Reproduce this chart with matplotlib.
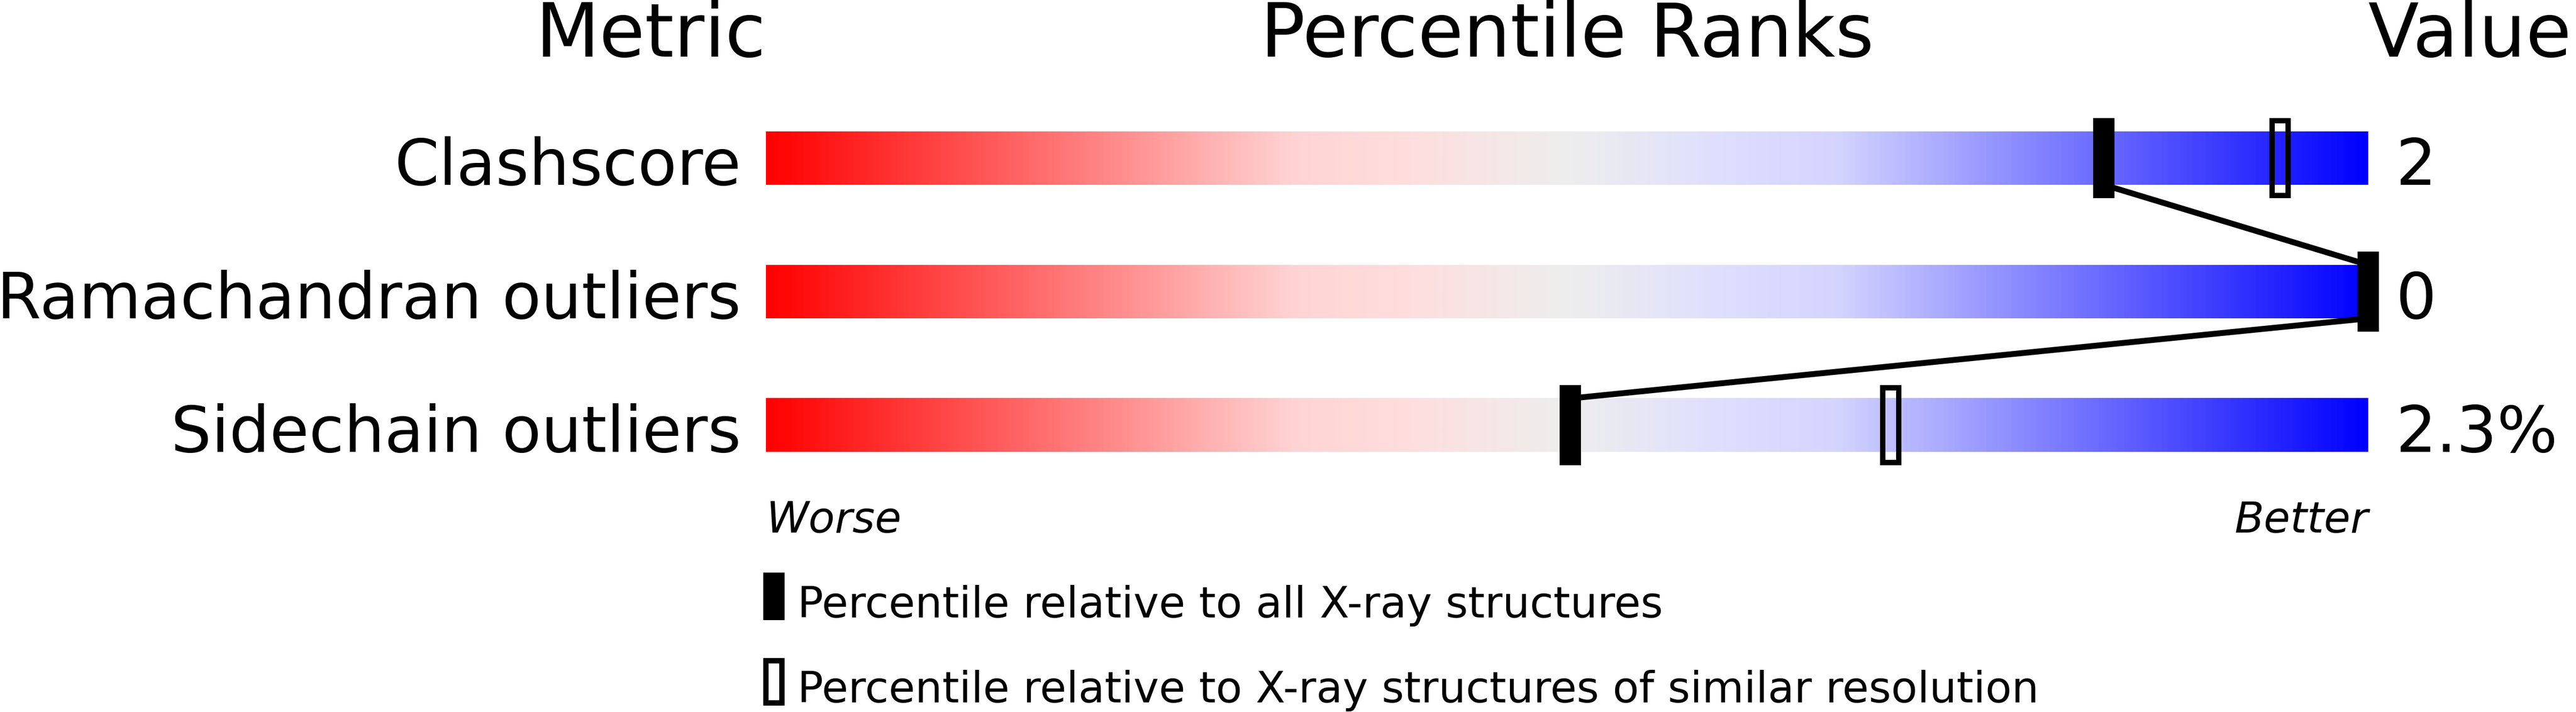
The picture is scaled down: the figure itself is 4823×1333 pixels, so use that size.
import numpy as np
import matplotlib
matplotlib.use("Agg")
import matplotlib.pyplot as plt
from matplotlib.colors import LinearSegmentedColormap
from matplotlib.patches import Rectangle

# data
metrics = ["Clashscore", "Ramachandran outliers", "Sidechain outliers"]
values = ["2", "0", "2.3%"]
pct_all = [83.5, 100.0, 50.2]          # filled marker
pct_similar = [94.5, np.nan, 70.2]     # hollow marker
legend_labels = ["Percentile relative to all X-ray structures",
                 "Percentile relative to X-ray structures of similar resolution"]

W, H, DPI = 4823, 1333, 100
fig = plt.figure(figsize=(W / DPI, H / DPI), dpi=DPI)
ax = fig.add_axes([0, 0, 1, 1])

# slider colours: red -> pink -> grey -> lavender -> blue
cmap = LinearSegmentedColormap.from_list("slider", [
    (0.0, (1.0, 0.0, 0.0)),
    (0.33, (1.0, 0.83, 0.83)),
    (0.4, (1.0, 0.87, 0.87)),
    (0.5, (0.933, 0.933, 0.933)),
    (0.6, (0.87, 0.87, 1.0)),
    (0.67, (0.83, 0.83, 1.0)),
    (1.0, (0.0, 0.0, 1.0)),
])
grad = np.linspace(0, 1, 1024).reshape(1, -1)

bar_h = 0.4
mark_h = 0.6
mark_w = 1.333
lw_px = 10 * 72 / DPI

rows = np.arange(len(metrics))
for i in rows:
    ax.imshow(grad, cmap=cmap, aspect="auto", interpolation="bilinear",
              extent=(0, 100, i + bar_h / 2, i - bar_h / 2), zorder=1)

# connecting line through filled markers
for i in rows[:-1]:
    ax.plot([pct_all[i], pct_all[i + 1]], [i + bar_h / 2, i + 1 - bar_h / 2],
            color="black", lw=11 * 72 / DPI, solid_capstyle="butt", zorder=2)

for i in rows:
    ax.add_patch(Rectangle((pct_all[i] - mark_w / 2, i - mark_h / 2), mark_w, mark_h,
                           facecolor="black", edgecolor="none", zorder=3))
    if not np.isnan(pct_similar[i]):
        ax.add_patch(Rectangle((pct_similar[i] - 0.5, i - 0.28), 1.0, 0.56,
                               facecolor="none", edgecolor="black", lw=lw_px, zorder=3))
    ax.text(-1.55, i + bar_h / 2, metrics[i], ha="right", va="baseline", fontsize=86)
    ax.text(101.7, i + bar_h / 2, values[i], ha="left", va="baseline", fontsize=86)

# headers
ax.text(0, -0.76, "Metric", ha="right", va="baseline", fontsize=100)
ax.text(50, -0.76, "Percentile Ranks", ha="center", va="baseline", fontsize=100)
ax.text(100, -0.76, "Value", ha="left", va="baseline", fontsize=100)

ax.text(0, 2.804, "Worse", ha="left", va="baseline", fontsize=58, style="italic")
ax.text(100, 2.804, "Better", ha="right", va="baseline", fontsize=58, style="italic")

# legend
ax.add_patch(Rectangle((-0.167, 3.104), 1.333, 0.356, facecolor="black", edgecolor="none"))
ax.text(1.97, 3.44, legend_labels[0], ha="left", va="baseline", fontsize=58)
ax.add_patch(Rectangle((0.0, 3.764), 1.0, 0.316, facecolor="none", edgecolor="black", lw=lw_px))
ax.text(1.97, 4.076, legend_labels[1], ha="left", va="baseline", fontsize=58)

ax.set_xlim(-1434 / 30, (W - 1434) / 30)
ax.set_ylim((H - 296) / 250, -296 / 250)
ax.axis("off")

fig.savefig("out.png", dpi=DPI)
